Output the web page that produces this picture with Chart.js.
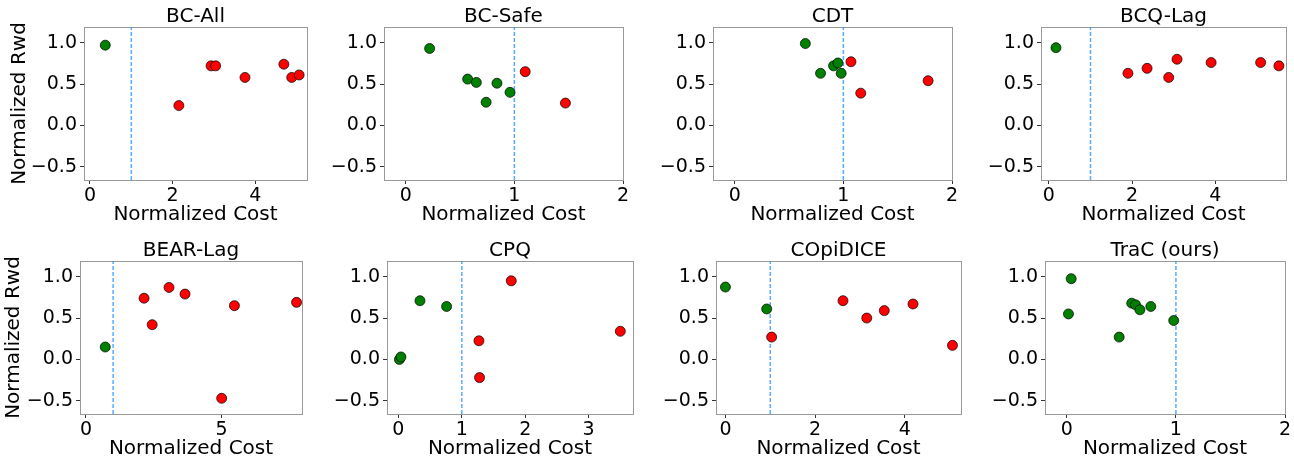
<!DOCTYPE html>
<html>
<head>
<meta charset="utf-8">
<script src="https://cdn.jsdelivr.net/npm/chart.js@4.4.1/dist/chart.umd.min.js"></script>
<style>
  html, body { margin: 0; padding: 0; background: #fff; overflow: hidden; }
  #fig { position: relative; width: 1294px; height: 462px; }
  #fig canvas { position: absolute; }
</style>
</head>
<body>
<div id="fig"></div>
<script>
// values
const methods = ['BC-All', 'BC-Safe', 'CDT', 'BCQ-Lag', 'BEAR-Lag', 'CPQ', 'COpiDICE', 'TraC (ours)'];

const bcAllCost = [0.37, 2.15, 2.93, 3.04, 3.75, 4.69, 4.88, 5.06];
const bcAllRwd  = [0.97, 0.24, 0.72, 0.72, 0.58, 0.74, 0.58, 0.61];

const bcSafeCost = [0.22, 0.57, 0.65, 0.74, 0.84, 0.96, 1.10, 1.47];
const bcSafeRwd  = [0.93, 0.56, 0.52, 0.28, 0.51, 0.40, 0.65, 0.27];

const cdtCost = [0.65, 0.79, 0.91, 0.95, 0.98, 1.07, 1.16, 1.78];
const cdtRwd  = [0.99, 0.63, 0.72, 0.755, 0.63, 0.77, 0.39, 0.54];

const bcqLagCost = [0.17, 1.90, 2.36, 2.88, 3.08, 3.90, 5.09, 5.53];
const bcqLagRwd  = [0.94, 0.63, 0.69, 0.58, 0.80, 0.76, 0.76, 0.72];

const bearLagCost = [0.71, 2.14, 2.44, 3.06, 3.65, 5.00, 5.47, 7.76];
const bearLagRwd  = [0.15, 0.74, 0.42, 0.87, 0.79, -0.47, 0.65, 0.69];

const cpqCost = [0.016, 0.04, 0.34, 0.76, 1.27, 1.28, 1.78, 3.50];
const cpqRwd  = [0.00, 0.03, 0.71, 0.64, 0.225, -0.22, 0.95, 0.34];

const copiCost = [0.00, 0.92, 1.03, 2.62, 3.15, 3.54, 4.18, 5.06];
const copiRwd  = [0.875, 0.61, 0.27, 0.71, 0.50, 0.59, 0.67, 0.17];

const tracCost = [0.04, 0.015, 0.48, 0.595, 0.63, 0.67, 0.77, 0.98];
const tracRwd  = [0.976, 0.55, 0.27, 0.68, 0.66, 0.60, 0.64, 0.47];

const costs = [bcAllCost, bcSafeCost, cdtCost, bcqLagCost, bearLagCost, cpqCost, copiCost, tracCost];
const rwds  = [bcAllRwd, bcSafeRwd, cdtRwd, bcqLagRwd, bearLagRwd, cpqRwd, copiRwd, tracRwd];

const costThreshold = 1;
const xTicks = [[0, 2, 4], [0, 1, 2], [0, 1, 2], [0, 2, 4], [0, 5], [0, 1, 2, 3], [0, 2, 4], [0, 1, 2]];
const xLimits = [[-0.145, 5.25], [-0.2, 2.0], [-0.2, 2.0], [-0.19, 5.70], [-0.22, 7.96], [-0.18, 3.70], [-0.21, 5.25], [-0.2, 2.0]];
const yTicks = [-0.5, 0, 0.5, 1.0];
const yLimits = [-0.66, 1.19];

// plot boxes in page pixels [left, top, right, bottom]
const boxes = [
  [84, 27, 307, 180], [384, 27, 623, 180], [713, 27, 952, 180], [1041, 27, 1286, 180],
  [80, 261, 302, 414], [387, 261, 633, 414], [716, 261, 961, 414], [1045, 261, 1285, 414]
];

const FONT = "'DejaVu Sans', sans-serif";
const SPINE = '#999999';

const frame = {
  id: 'frame',
  beforeDatasetsDraw(chart) {
    const a = chart.chartArea, ctx = chart.ctx;
    ctx.save();
    ctx.strokeStyle = SPINE;
    ctx.lineWidth = 1;
    ctx.strokeRect(Math.round(a.left) + 0.5, Math.round(a.top) + 0.5,
      Math.round(a.right - a.left), Math.round(a.bottom - a.top));
    ctx.restore();
  },
  afterDraw(chart, args, opts) {
    const a = chart.chartArea, ctx = chart.ctx;
    ctx.save();
    ctx.fillStyle = '#000';
    ctx.font = '20px ' + FONT;
    ctx.textAlign = 'center';
    ctx.textBaseline = 'alphabetic';
    ctx.fillText(opts.text, (a.left + a.right) / 2, a.top - 5);
    ctx.restore();
  }
};

const fig = document.getElementById('fig');

methods.forEach((name, i) => {
  const [L, T, R, B] = boxes[i];
  const col = i % 4, row = Math.floor(i / 4);
  const padL = col === 0 ? L : 60;
  const padT = row === 0 ? T : 29;
  const padR = 8, axisH = 47;
  const canvas = document.createElement('canvas');
  canvas.width = (R - L) + padL + padR;
  canvas.height = (B - T) + padT + axisH;
  canvas.style.left = (L - padL) + 'px';
  canvas.style.top = (T - padT) + 'px';
  fig.appendChild(canvas);

  const pts = costs[i].map((c, k) => ({ x: c, y: rwds[i][k] }));
  const fills = costs[i].map(c => (c > costThreshold ? '#ff0000' : '#008000'));

  new Chart(canvas, {
    type: 'scatter',
    data: {
      datasets: [
        {
          type: 'line',
          data: [{ x: costThreshold, y: yLimits[0] }, { x: costThreshold, y: yLimits[1] }],
          borderColor: 'rgba(30,144,255,0.75)',
          borderWidth: 1.5,
          borderDash: [4, 2],
          pointRadius: 0,
          fill: false,
          order: 2
        },
        {
          data: pts,
          backgroundColor: fills,
          borderColor: '#000',
          borderWidth: 0.7,
          pointRadius: 5,
          pointHoverRadius: 5,
          order: 1
        }
      ]
    },
    options: {
      responsive: false,
      animation: false,
      events: [],
      layout: { padding: { left: 0, top: padT, right: padR, bottom: 0 } },
      plugins: {
        legend: { display: false },
        tooltip: { enabled: false },
        frame: { text: name }
      },
      scales: {
        x: {
          type: 'linear',
          min: xLimits[i][0],
          max: xLimits[i][1],
          afterBuildTicks: s => { s.ticks = xTicks[i].map(v => ({ value: v })); },
          afterFit: s => { s.height = axisH; },
          grid: { drawOnChartArea: false, tickLength: 4, tickColor: '#333', tickWidth: 1 },
          border: { display: false },
          ticks: {
            color: '#000', padding: 1, maxRotation: 0, autoSkip: false,
            font: { family: FONT, size: 19 },
            callback: v => String(v)
          },
          title: {
            display: true, text: 'Normalized Cost', color: '#000',
            font: { family: FONT, size: 20 }, padding: { top: 0, bottom: 0 }
          }
        },
        y: {
          type: 'linear',
          min: yLimits[0],
          max: yLimits[1],
          afterBuildTicks: s => { s.ticks = yTicks.map(v => ({ value: v })); },
          afterFit: s => { s.width = padL; },
          grid: { drawOnChartArea: false, tickLength: 4, tickColor: '#333', tickWidth: 1 },
          border: { display: false },
          ticks: {
            color: '#000', padding: 3, autoSkip: false,
            font: { family: FONT, size: 19 },
            callback: v => (v < 0 ? '\u2212' + Math.abs(v).toFixed(1) : v.toFixed(1))
          },
          title: {
            display: col === 0, text: 'Normalized Rwd', color: '#000',
            font: { family: FONT, size: 20 }, padding: { top: row === 0 ? 8 : 2, bottom: 0 }
          }
        }
      }
    },
    plugins: [frame]
  });
});
</script>
</body>
</html>
